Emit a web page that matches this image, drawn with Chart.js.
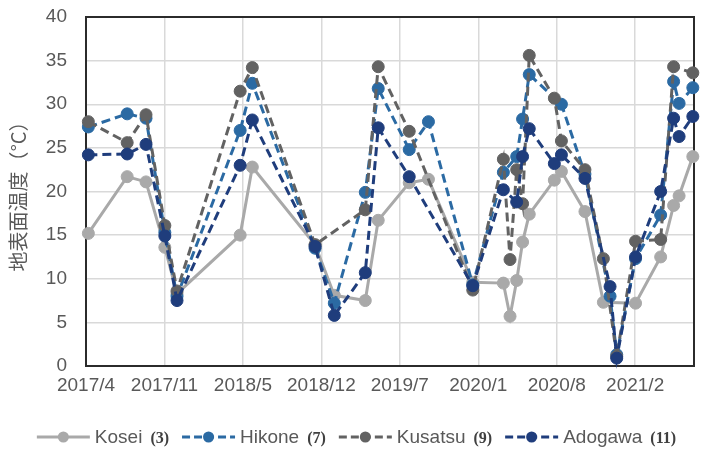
<!DOCTYPE html>
<html>
<head>
<meta charset="utf-8">
<script src="https://cdn.jsdelivr.net/npm/chart.js@4.4.1/dist/chart.umd.min.js"></script>
<style>
  html, body { margin: 0; padding: 0; background: #ffffff; }
  #wrap { width: 713px; height: 450px; }
</style>
</head>
<body>
<div id="wrap"><canvas id="chart" width="713" height="450"></canvas></div>
<script>
// X axis: day offsets from the first tick, one tick every 200 days
const tickLabels = ['2017/4', '2017/11', '2018/5', '2018/12', '2019/7', '2020/1', '2020/8', '2021/2'];
const axisStartDate = '2017-04-25';
const tickStepDays = 200;
const axisEndDays = 1550;

// Land surface temperature (°C) per station and observation date
const koseiDates = ['2017-05-01','2017-08-08','2017-09-25','2017-11-12','2017-12-13','2018-05-23','2018-06-23','2018-11-30','2019-01-18','2019-04-07','2019-05-10','2019-07-28','2019-09-15','2020-01-06','2020-03-24','2020-04-10','2020-04-27','2020-05-12','2020-05-29','2020-08-01','2020-08-19','2020-10-18','2020-12-04','2021-02-24','2021-04-29','2021-06-01','2021-06-15','2021-07-20'];
const koseiTemps = [15.2, 21.7, 21.1, 13.6, 8.3, 15.0, 22.8, 13.9, 8.1, 7.5, 16.7, 21.0, 21.4, 9.6, 9.5, 5.7, 9.8, 14.2, 17.4, 21.3, 22.3, 17.7, 7.3, 7.2, 12.5, 18.4, 19.5, 24.0];

const hikoneDates = ['2017-05-01','2017-08-08','2017-09-25','2017-11-12','2017-12-13','2018-05-23','2018-06-23','2018-11-30','2019-01-18','2019-04-07','2019-05-10','2019-07-28','2019-09-15','2020-01-06','2020-03-24','2020-04-27','2020-05-12','2020-05-29','2020-08-19','2020-10-18','2020-12-21','2021-01-07','2021-02-24','2021-04-29','2021-06-01','2021-06-15','2021-07-20'];
const hikoneTemps = [27.4, 28.9, 28.4, 15.3, 8.0, 27.0, 32.4, 13.5, 7.2, 19.9, 31.8, 24.8, 28.0, 9.3, 22.2, 24.0, 28.3, 33.4, 30.0, 22.0, 8.0, 1.3, 12.3, 17.3, 32.6, 30.1, 31.9];

const kusatsuDates = ['2017-05-01','2017-08-08','2017-09-25','2017-11-12','2017-12-13','2018-05-23','2018-06-23','2018-11-30','2019-04-07','2019-05-10','2019-07-28','2020-01-06','2020-03-24','2020-04-10','2020-04-27','2020-05-12','2020-05-29','2020-08-01','2020-08-19','2020-10-18','2020-12-04','2021-01-07','2021-02-24','2021-04-29','2021-06-01','2021-07-20'];
const kusatsuTemps = [28.0, 25.6, 28.8, 16.1, 8.6, 31.5, 34.2, 13.9, 17.9, 34.3, 26.9, 8.7, 23.7, 12.2, 22.5, 18.6, 35.6, 30.7, 25.8, 22.5, 12.3, 1.1, 14.3, 14.5, 34.3, 33.6];

const adogawaDates = ['2017-05-01','2017-08-08','2017-09-25','2017-11-12','2017-12-13','2018-05-23','2018-06-23','2018-11-30','2019-01-18','2019-04-07','2019-05-10','2019-07-28','2020-01-06','2020-03-24','2020-04-27','2020-05-12','2020-05-29','2020-08-01','2020-08-19','2020-10-18','2020-12-21','2021-01-07','2021-02-24','2021-04-29','2021-06-01','2021-06-15','2021-07-20'];
const adogawaTemps = [24.2, 24.3, 25.4, 14.9, 7.5, 23.0, 28.2, 13.7, 5.8, 10.7, 27.3, 21.7, 9.2, 20.2, 18.8, 24.0, 27.2, 23.2, 24.2, 21.5, 9.1, 0.9, 12.5, 20.0, 28.4, 26.3, 28.6];

const DAY_MS = 86400000;
const startMs = Date.parse(axisStartDate + 'T00:00:00Z');
const toDay = d => Math.round((Date.parse(d + 'T00:00:00Z') - startMs) / DAY_MS);
const toPoints = (dates, temps) => dates.map((d, i) => ({ x: toDay(d), y: temps[i] }));

function series(label, dates, temps, color, dashed, order) {
  return {
    label,
    data: toPoints(dates, temps),
    borderColor: color,
    backgroundColor: color,
    pointBackgroundColor: color,
    pointBorderColor: color,
    borderWidth: 3,
    borderDash: dashed ? [9, 5] : [],
    pointRadius: 6,
    pointHoverRadius: 6,
    pointBorderWidth: 1,
    tension: 0,
    clip: false,
    order
  };
}

const datasets = [
  series('Kosei (3)', koseiDates, koseiTemps, '#A9A9A9', false, 4),
  series('Hikone (7)', hikoneDates, hikoneTemps, '#2B6AA3', true, 3),
  series('Kusatsu (9)', kusatsuDates, kusatsuTemps, '#626262', true, 2),
  series('Adogawa (11)', adogawaDates, adogawaTemps, '#1F3D7C', true, 1)
];

const FONT = '"Liberation Sans", "Noto Sans CJK JP", sans-serif';
const TEXT = '#595959';

// Dark frame around the plot area, drawn under the series
const framePlugin = {
  id: 'frame',
  beforeDatasetsDraw(chart) {
    const { ctx, chartArea: a } = chart;
    ctx.save();
    ctx.strokeStyle = '#2b2b2b';
    ctx.lineWidth = 2;
    ctx.strokeRect(a.left, a.top, a.right - a.left, a.bottom - a.top);
    ctx.restore();
  }
};

// Legend row: line sample with a marker, the station name, then its number in a smaller bold face
const legendPlugin = {
  id: 'lineLegend',
  afterDraw(chart) {
    const { ctx } = chart;
    const lineLen = 53, gapText = 5, gapNum = 8, gapItem = 13, y = 437;
    const nameFont = '19px ' + FONT;
    const numFont = 'bold 16px "Liberation Serif", serif';
    ctx.save();
    const items = chart.data.datasets.map(ds => {
      const m = ds.label.match(/^(.*?)\s*(\(.*\))$/);
      const name = m ? m[1] : ds.label;
      const num = m ? m[2] : '';
      ctx.font = nameFont;
      const wName = ctx.measureText(name).width;
      ctx.font = numFont;
      const wNum = ctx.measureText(num).width;
      return { ds, name, num, wName, wNum, w: lineLen + gapText + wName + gapNum + wNum };
    });
    const total = items.reduce((s, it) => s + it.w, 0) + gapItem * (items.length - 1);
    let x = (chart.width - total) / 2;
    items.forEach(it => {
      const ds = it.ds;
      ctx.strokeStyle = ds.borderColor;
      ctx.lineWidth = 3;
      ctx.setLineDash(ds.borderDash.length ? [8, 4] : []);
      ctx.beginPath();
      ctx.moveTo(x, y);
      ctx.lineTo(x + lineLen, y);
      ctx.stroke();
      ctx.setLineDash([]);
      ctx.fillStyle = ds.borderColor;
      ctx.beginPath();
      ctx.arc(x + lineLen / 2, y, 5.5, 0, Math.PI * 2);
      ctx.fill();
      ctx.fillStyle = TEXT;
      ctx.textBaseline = 'middle';
      ctx.textAlign = 'left';
      ctx.font = nameFont;
      ctx.fillText(it.name, x + lineLen + gapText, y + 1);
      ctx.fillStyle = '#404040';
      ctx.font = numFont;
      ctx.fillText(it.num, x + lineLen + gapText + it.wName + gapNum, y + 2);
      x += it.w + gapItem;
    });
    ctx.restore();
  }
};

new Chart(document.getElementById('chart'), {
  type: 'line',
  data: { datasets },
  options: {
    responsive: false,
    animation: false,
    devicePixelRatio: 1,
    layout: { padding: { top: 17, right: 19, bottom: 54, left: 0 } },
    plugins: {
      legend: { display: false },
      tooltip: { enabled: false }
    },
    scales: {
      x: {
        type: 'linear',
        min: 0,
        max: axisEndDays,
        afterFit: s => { s.height = 30; },
        afterBuildTicks: s => { s.ticks = tickLabels.map((_, i) => ({ value: i * tickStepDays })); },
        ticks: {
          autoSkip: false,
          maxRotation: 0,
          padding: 8,
          color: TEXT,
          font: { family: FONT, size: 19 },
          callback: (v, i) => tickLabels[i]
        },
        grid: { color: '#D9D9D9', lineWidth: 1.5, drawTicks: false },
        border: { display: false }
      },
      y: {
        min: 0,
        max: 40,
        afterFit: s => { s.width = 86; s.paddingTop = 0; s.paddingBottom = 0; },
        ticks: {
          stepSize: 5,
          padding: 19,
          color: TEXT,
          font: { family: FONT, size: 19 }
        },
        grid: { color: '#D9D9D9', lineWidth: 1.5, drawTicks: false },
        border: { display: false },
        title: {
          display: true,
          text: '地表面温度（°C）',
          color: TEXT,
          font: { family: '"Noto Sans CJK JP", sans-serif', size: 20 },
          padding: { top: 6, bottom: 0 }
        }
      }
    }
  },
  plugins: [framePlugin, legendPlugin]
});
</script>
</body>
</html>
